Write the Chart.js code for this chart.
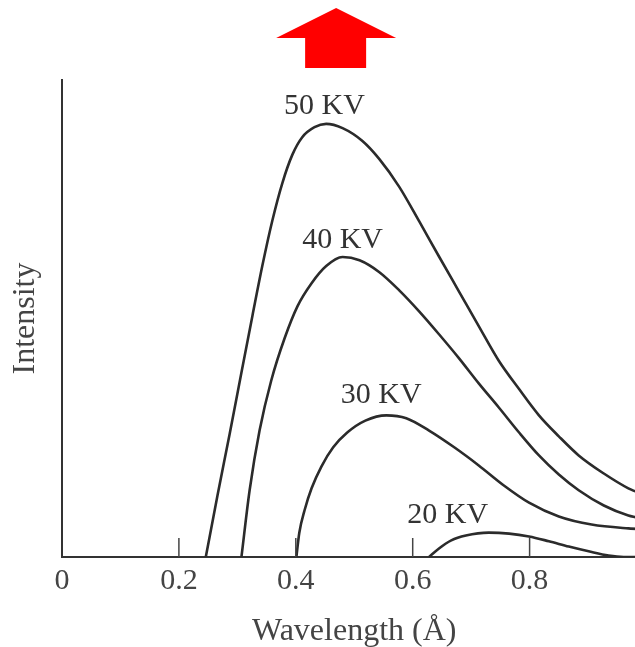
<!DOCTYPE html>
<html>
<head>
<meta charset="utf-8">
<script src="https://cdn.jsdelivr.net/npm/chart.js@4/dist/chart.umd.min.js"></script>
<style>
  html, body { margin: 0; padding: 0; background: #fff; overflow: hidden; }
  #wrap { width: 635px; height: 647px; overflow: hidden; }
</style>
</head>
<body>
<div id="wrap"><canvas id="spectrum" width="660" height="647"></canvas></div>
<script>
(function () {
    'use strict';

    // wavelength (Å) / intensity (arb. units, 0..100)
    var x50 = [0.246, 0.266, 0.287, 0.307, 0.326, 0.343, 0.360, 0.377, 0.394, 0.411, 0.432, 0.452, 0.480, 0.514, 0.543, 0.577, 0.611, 0.645, 0.679, 0.713, 0.747, 0.782, 0.816, 0.850, 0.884, 0.927, 0.969, 1.0];
    var y50 = [0, 12.9, 25.9, 38.7, 50.7, 61.2, 70.6, 78.4, 84.3, 88.0, 90.1, 90.8, 89.9, 87.2, 83.4, 77.6, 70.4, 63.0, 55.7, 48.4, 41.2, 35.2, 29.7, 25.3, 21.3, 17.5, 14.4, 12.9];

    var x40 = [0.307, 0.321, 0.338, 0.358, 0.381, 0.403, 0.427, 0.452, 0.480, 0.509, 0.543, 0.577, 0.611, 0.645, 0.679, 0.713, 0.747, 0.782, 0.816, 0.850, 0.884, 0.927, 0.969, 1.0];
    var y40 = [0, 14.0, 26.5, 37.0, 45.9, 52.6, 57.4, 61.0, 62.9, 62.2, 59.7, 55.9, 51.5, 46.7, 41.7, 36.4, 31.4, 26.1, 21.3, 17.3, 14.0, 10.8, 8.7, 7.9];

    var x30 = [0.401, 0.406, 0.415, 0.427, 0.444, 0.464, 0.488, 0.519, 0.555, 0.589, 0.628, 0.671, 0.713, 0.756, 0.799, 0.850, 0.906, 0.969, 1.0];
    var y30 = [0, 5.1, 9.8, 14.4, 19.0, 23.0, 26.1, 28.6, 29.7, 29.1, 26.5, 23.0, 19.2, 15.0, 11.4, 8.5, 6.8, 6.0, 5.8];

    var x20 = [0.628, 0.645, 0.666, 0.691, 0.730, 0.765, 0.799, 0.833, 0.867, 0.901, 0.935, 0.961, 1.0];
    var y20 = [0, 1.8, 3.5, 4.5, 5.1, 4.9, 4.3, 3.3, 2.2, 1.2, 0.3, 0, 0];

    var xTicks = [0, 0.2, 0.4, 0.6, 0.8, 1];

    var curveLabels = ['50 KV', '40 KV', '30 KV', '20 KV'];
    var labelX = [0.449, 0.480, 0.546, 0.660];
    var labelY = [94.6, 66.4, 33.9, 8.7];

    var arrowX = 0.469;

    var ink = '#2b2b2b';
    var serif = "'Liberation Serif', 'DejaVu Serif', serif";

    function toPoints(xs, ys) {
        return xs.map(function (x, i) { return { x: x, y: ys[i] }; });
    }

    function curve(label, xs, ys) {
        return {
            label: label,
            data: toPoints(xs, ys),
            borderColor: ink,
            borderWidth: 2.6,
            pointRadius: 0,
            fill: false,
            cubicInterpolationMode: 'monotone'
        };
    }

    // curve names, inward tick marks and the red arrow
    var decorations = {
        id: 'decorations',
        afterDraw: function (chart) {
            var ctx = chart.ctx;
            var xs = chart.scales.x, ys = chart.scales.y;
            var area = chart.chartArea;

            ctx.save();
            ctx.strokeStyle = '#444';
            ctx.lineWidth = 1.5;
            xTicks.forEach(function (v) {
                if (v === 0) return;
                var px = xs.getPixelForValue(v);
                ctx.beginPath();
                ctx.moveTo(px, area.bottom);
                ctx.lineTo(px, area.bottom - 19);
                ctx.stroke();
            });

            ctx.fillStyle = '#333';
            ctx.font = '30px ' + serif;
            ctx.textAlign = 'center';
            ctx.textBaseline = 'middle';
            curveLabels.forEach(function (t, i) {
                ctx.fillText(t, xs.getPixelForValue(labelX[i]), ys.getPixelForValue(labelY[i]));
            });

            var cx = xs.getPixelForValue(arrowX);
            var top = area.top;
            ctx.fillStyle = '#ff0000';
            ctx.beginPath();
            ctx.moveTo(cx, top - 72);
            ctx.lineTo(cx + 60, top - 42);
            ctx.lineTo(cx + 30, top - 42);
            ctx.lineTo(cx + 30, top - 12);
            ctx.lineTo(cx - 31, top - 12);
            ctx.lineTo(cx - 31, top - 42);
            ctx.lineTo(cx - 60, top - 42);
            ctx.closePath();
            ctx.fill();
            ctx.restore();
        }
    };

    new Chart(document.getElementById('spectrum'), {
        type: 'line',
        data: {
            datasets: [
                curve('50 KV', x50, y50),
                curve('40 KV', x40, y40),
                curve('30 KV', x30, y30),
                curve('20 KV', x20, y20)
            ]
        },
        options: {
            responsive: false,
            animation: false,
            events: [],
            layout: { padding: { top: 80, right: 12, left: 0, bottom: 0 } },
            plugins: { legend: { display: false }, tooltip: { enabled: false } },
            scales: {
                x: {
                    type: 'linear',
                    min: 0,
                    max: 1,
                    afterBuildTicks: function (s) { s.ticks = xTicks.map(function (v) { return { value: v }; }); },
                    afterFit: function (s) { s.height = 90; },
                    grid: { display: false, drawTicks: false },
                    border: { display: true, color: '#333', width: 2 },
                    ticks: {
                        padding: 6,
                        color: '#444',
                        font: { family: serif, size: 30 },
                        maxRotation: 0,
                        autoSkip: false,
                        callback: function (v) { return String(v); }
                    },
                    title: {
                        display: true,
                        text: 'Wavelength (Å)',
                        color: '#444',
                        font: { family: serif, size: 32 },
                        padding: { top: 0, bottom: -4 }
                    }
                },
                y: {
                    min: 0,
                    max: 100,
                    afterFit: function (s) { s.width = 62; },
                    grid: { display: false, drawTicks: false },
                    border: { display: true, color: '#333', width: 2 },
                    ticks: { display: false },
                    title: {
                        display: true,
                        text: 'Intensity',
                        color: '#444',
                        font: { family: serif, size: 32 },
                        padding: { top: 6, bottom: 0 }
                    }
                }
            }
        },
        plugins: [decorations]
    });
})();
</script>
</body>
</html>
